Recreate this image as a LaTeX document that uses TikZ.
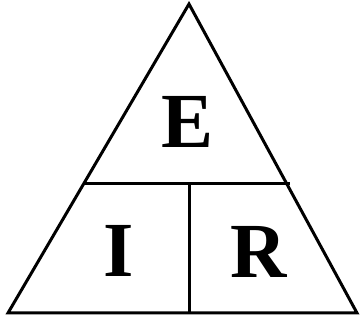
\documentclass[tikz,border=0pt]{standalone}
\usepackage{fontspec}
\setmainfont{Liberation Serif}
\begin{document}
\begin{tikzpicture}[x=1pt,y=1pt,
  edge/.style={line width=3pt,line join=miter,black},
  letter/.style={inner sep=0pt,anchor=center,font=\fontsize{78}{80}\selectfont\bfseries}]
\useasboundingbox (0,0) rectangle (361,320);
\coordinate (apex) at (189,316);
\coordinate (bl) at (8,7);
\coordinate (br) at (357,7);
\coordinate (ml) at (83,136);
\coordinate (mr) at (290,136);
\coordinate (mt) at (189,136);
\coordinate (mb) at (189,7);
\draw[edge] (apex) -- (bl) -- (br) -- cycle;
\draw[edge] (ml) -- (mr);
\draw[edge] (mt) -- (mb);
\node[letter] (E) at (188,198) {E};
\node[letter] (I) at (119,69.5) {I};
\node[letter] (R) at (259,68.5) {R};
\end{tikzpicture}
\end{document}
